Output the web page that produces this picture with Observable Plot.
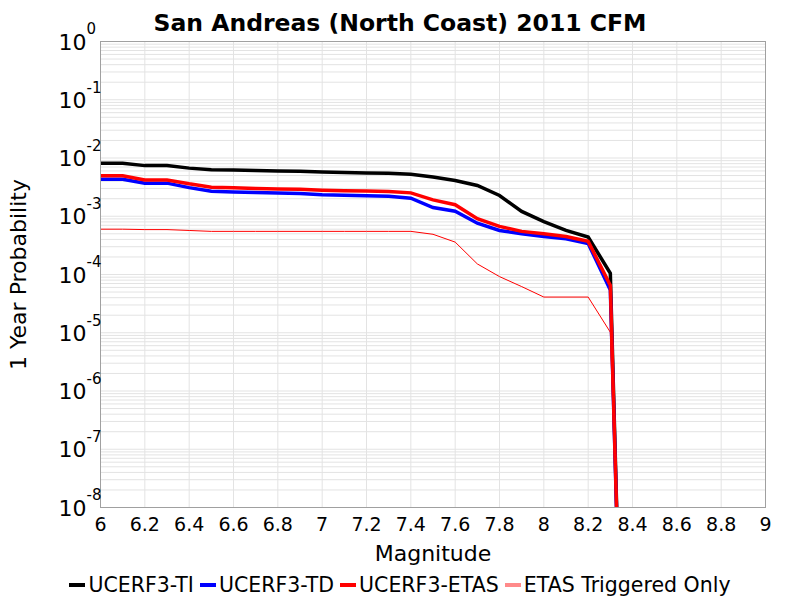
<!DOCTYPE html>
<html>
<head>
<meta charset="utf-8">
<script src="https://cdn.jsdelivr.net/npm/d3@7"></script>
<script src="https://cdn.jsdelivr.net/npm/@observablehq/plot@0.6"></script>
<style>
  body { margin: 0; background: #fff; font-family: "DejaVu Sans", sans-serif; }
  #legend { height: 30px; line-height: 30px; display: flex; justify-content: center; align-items: center; font-size: 20.5px; color: #000; }
  #legend .item { display: flex; align-items: center; margin: 0 3px; }
  #legend svg { margin-right: 3px; }
</style>
</head>
<body>
<div id="chart"></div>
<div id="legend"></div>
<script>
const title = "San Andreas (North Coast) 2011 CFM";
const xLabel = "Magnitude";
const yLabel = "1 Year Probability";

const mags = [6.0, 6.1, 6.2, 6.3, 6.4, 6.5, 6.6, 6.7, 6.8, 6.9, 7.0, 7.1, 7.2, 7.3, 7.4, 7.5, 7.6, 7.7, 7.8, 7.9, 8.0, 8.1, 8.2, 8.3, 8.35];
const ucerf3TI   = [8.1e-3, 8.1e-3, 7.4e-3, 7.4e-3, 6.7e-3, 6.3e-3, 6.2e-3, 6.1e-3, 6.0e-3, 5.9e-3, 5.75e-3, 5.65e-3, 5.55e-3, 5.45e-3, 5.25e-3, 4.7e-3, 4.1e-3, 3.37e-3, 2.27e-3, 1.21e-3, 8.1e-4, 5.7e-4, 4.4e-4, 1.05e-4, 1e-11];
const ucerf3TD   = [4.33e-3, 4.33e-3, 3.7e-3, 3.7e-3, 3.1e-3, 2.69e-3, 2.62e-3, 2.55e-3, 2.5e-3, 2.45e-3, 2.35e-3, 2.3e-3, 2.25e-3, 2.2e-3, 2.04e-3, 1.41e-3, 1.22e-3, 7.6e-4, 5.7e-4, 5.0e-4, 4.5e-4, 4.1e-4, 3.4e-4, 5.4e-5, 1e-11];
const ucerf3ETAS = [4.94e-3, 4.94e-3, 4.2e-3, 4.2e-3, 3.6e-3, 3.15e-3, 3.08e-3, 3.0e-3, 2.95e-3, 2.9e-3, 2.8e-3, 2.75e-3, 2.7e-3, 2.65e-3, 2.52e-3, 1.91e-3, 1.58e-3, 9.1e-4, 6.7e-4, 5.5e-4, 5.0e-4, 4.5e-4, 3.7e-4, 6.5e-5, 1e-11];
const etasTriggered = [6.0e-4, 6.0e-4, 5.9e-4, 5.9e-4, 5.7e-4, 5.5e-4, 5.5e-4, 5.5e-4, 5.5e-4, 5.5e-4, 5.5e-4, 5.5e-4, 5.5e-4, 5.5e-4, 5.5e-4, 4.9e-4, 3.6e-4, 1.52e-4, 9.2e-5, 6.2e-5, 4.1e-5, 4.1e-5, 4.1e-5, 1.02e-5, 1e-11];

const seriesNames  = ["UCERF3-TI", "UCERF3-TD", "UCERF3-ETAS", "ETAS Triggered Only"];
const seriesColors = ["#000000", "#0000ff", "#ff0000", "#ff0000"];
const seriesWidths = [3.5, 3.5, 3.5, 1];
const legendColors = ["#000000", "#0000ff", "#ff0000", "#ff8a8a"];

const xTicks = [6, 6.2, 6.4, 6.6, 6.8, 7, 7.2, 7.4, 7.6, 7.8, 8, 8.2, 8.4, 8.6, 8.8, 9];
const yTickExps = [0, -1, -2, -3, -4, -5, -6, -7, -8];
const minorMultipliers = [1, 2, 3, 4, 5, 6, 7, 8, 9];

const seriesValues = [ucerf3TI, ucerf3TD, ucerf3ETAS, etasTriggered];
const rows = [];
seriesValues.forEach((vals, s) => {
  mags.forEach((m, i) => rows.push({series: seriesNames[s], mag: m, p: vals[i]}));
});

const yGrid = [];
yTickExps.forEach(e => { if (e > -8) minorMultipliers.forEach(k => yGrid.push(k * Math.pow(10, e - 1))); });

const font = "DejaVu Sans, sans-serif";

const lineMarks = seriesNames.map((name, s) =>
  Plot.line(rows.filter(r => r.series === name), {
    x: "mag", y: "p", stroke: seriesColors[s], strokeWidth: seriesWidths[s], clip: true, strokeLinejoin: "miter", strokeMiterlimit: 4
  })
);

const chart = Plot.plot({
  width: 800,
  height: 570,
  marginLeft: 100,
  marginRight: 35,
  marginTop: 41,
  marginBottom: 63,
  style: {fontFamily: font, fontSize: "19px", color: "#000", background: "#fff", overflow: "visible"},
  x: {domain: [6, 9], ticks: xTicks, tickSize: 0, tickPadding: 10, tickFormat: d => String(d), label: null},
  y: {type: "log", domain: [1e-8, 1], axis: null},
  marks: [
    Plot.ruleY(yGrid, {stroke: "#e3e3e3", strokeWidth: 1}),
    Plot.ruleX(xTicks, {stroke: "#e3e3e3", strokeWidth: 1}),
    ...lineMarks,
    Plot.frame({stroke: "#a0a0a0", strokeWidth: 1}),
    Plot.text(yTickExps, {frameAnchor: "left", y: d => Math.pow(10, d), text: d => "10", textAnchor: "end", dx: -14, dy: 1, fontSize: 22}),
    Plot.text(yTickExps, {frameAnchor: "left", y: d => Math.pow(10, d), text: d => String(d), textAnchor: "start", dx: -14, dy: -12, fontSize: 15}),
    Plot.text([title], {frameAnchor: "top", dx: -33, dy: -27, fontSize: 23.5, fontWeight: "bold"}),
    Plot.text([xLabel], {frameAnchor: "bottom", dy: 53, fontSize: 22}),
    Plot.text([yLabel], {frameAnchor: "left", dx: -82, rotate: -90, textAnchor: "middle", fontSize: 22})
  ]
});
document.getElementById("chart").appendChild(chart);

const legend = document.getElementById("legend");
seriesNames.forEach((name, s) => {
  const item = document.createElement("div");
  item.className = "item";
  item.innerHTML = `<svg width="16" height="6"><line x1="0" x2="16" y1="3" y2="3" stroke="${legendColors[s]}" stroke-width="4"/></svg><span>${name}</span>`;
  legend.appendChild(item);
});
</script>
</body>
</html>
